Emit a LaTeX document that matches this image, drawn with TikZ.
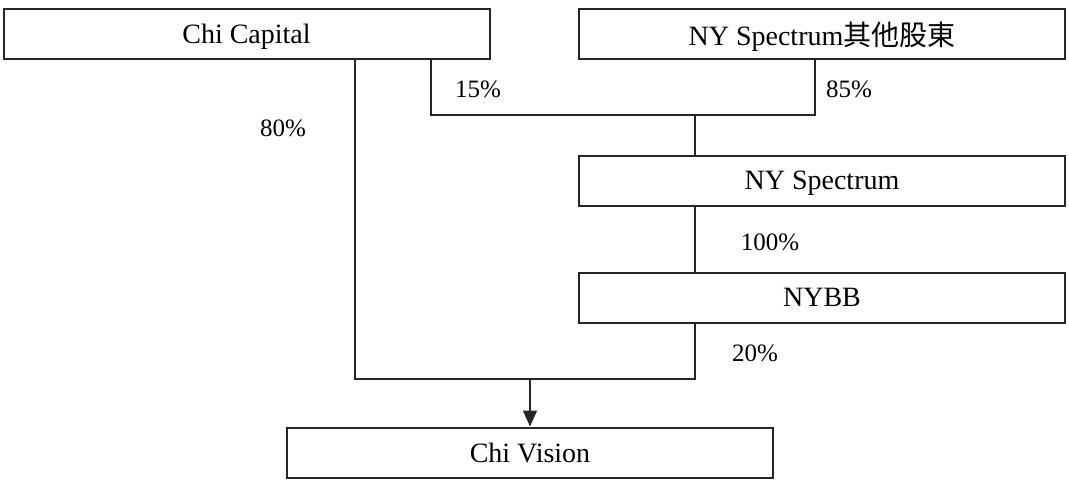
\documentclass[tikz,border=0pt]{standalone}
\usepackage{fontspec}
\setmainfont{Liberation Serif}
\newfontfamily\cjk{Noto Sans CJK TC}
\usetikzlibrary{arrows.meta}
\begin{document}
\begin{tikzpicture}[x=1pt,y=-1pt,
  box/.style={draw=black!85, line width=2pt, minimum width=486pt, minimum height=50pt, inner sep=0pt, text depth=0pt, font=\fontsize{28}{32}\selectfont},
  conn/.style={draw=black!85, line width=2pt},
  pct/.style={font=\fontsize{25}{29}\selectfont, inner sep=0pt}]
\useasboundingbox (0,0) rectangle (1069,480);
\node[box] (cc) at (246.5,33.5) {Chi Capital};
\node[box] (os) at (822,33.5) {NY Spectrum{\cjk 其他股東}};
\node[box] (ns) at (822,180.5) {NY Spectrum};
\node[box] (nb) at (822,297.5) {NYBB};
\node[box] (cv) at (530,452.5) {Chi Vision};
\coordinate (j1) at (695,115);
\coordinate (j2) at (530,379);
\draw[conn] (cc.south -| 431,0) |- (j1);
\draw[conn] (os.south -| 815,0) |- (j1);
\draw[conn] (j1) -- (ns.north -| j1);
\draw[conn] (ns.south -| j1) -- (nb.north -| j1);
\draw[conn] (cc.south -| 355,0) |- (j2);
\draw[conn] (nb.south -| j1) |- (j2);
\draw[conn, -{Triangle[length=16pt,width=14pt]}] (j2) -- (cv.north);
\node[pct] (p15) at (478,89) {15\%};
\node[pct] (p85) at (849,89) {85\%};
\node[pct] (p80) at (283,128) {80\%};
\node[pct] (p100) at (770,242) {100\%};
\node[pct] (p20) at (755,353) {20\%};
\end{tikzpicture}
\end{document}
